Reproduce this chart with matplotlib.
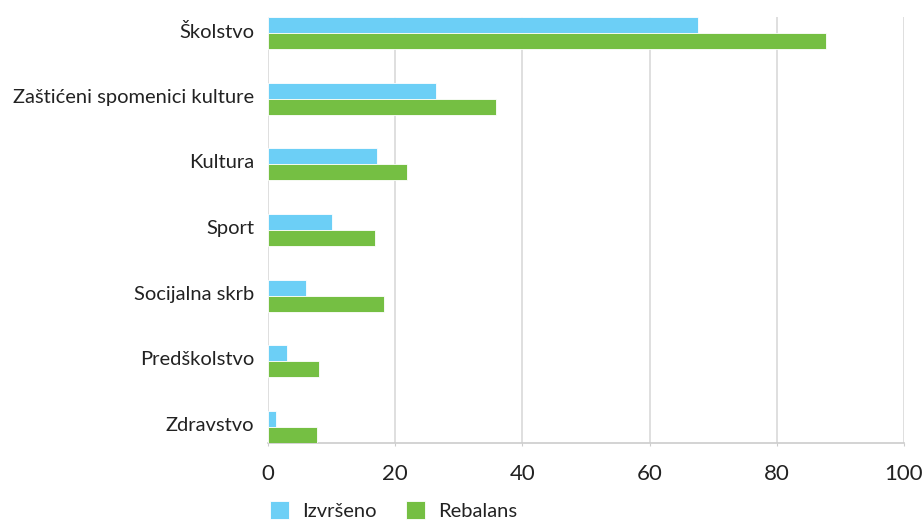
import matplotlib
matplotlib.use("Agg")
import matplotlib.pyplot as plt
import matplotlib.transforms as mtransforms
import numpy as np

categories = ["Školstvo", "Zaštićeni spomenici kulture", "Kultura", "Sport",
              "Socijalna skrb", "Predškolstvo", "Zdravstvo"]
izvrseno = [67.6, 26.4, 17.1, 10.1, 6.0, 3.0, 1.3]
rebalans = [87.7, 35.8, 21.9, 16.8, 18.2, 8.0, 7.7]
series_names = ["Izvršeno", "Rebalans"]
xticks = [0, 20, 40, 60, 80, 100]

plt.rcParams['font.family'] = ['Lato', 'DejaVu Sans']

fig = plt.figure(figsize=(9.24, 5.21), dpi=100)
ax = fig.add_axes([268/924, 1-443/521, (904-268)/924, (443-17)/521])

y = np.arange(len(categories))
h = 0.244
blue = "#6ccff6"
green = "#75bf43"
ax.barh(y - h/2, izvrseno, height=h, color=blue, edgecolor="white", linewidth=0.6, label=series_names[0], zorder=3)
ax.barh(y + h/2, rebalans, height=h, color=green, edgecolor="white", linewidth=0.6, label=series_names[1], zorder=3)

ax.set_ylim(len(categories) - 1 + h, -h)
ax.set_xlim(0, 100)
ax.set_xticks(xticks)
ax.set_xticklabels([str(t) for t in xticks], fontsize=16, color="#222222")
ax.set_yticks(y)
ax.set_yticklabels(categories, fontsize=14.5, color="#222222")
ax.tick_params(axis='y', length=0, pad=10)
ax.tick_params(axis='x', length=2, color="#cccccc", pad=13)
offset = mtransforms.ScaledTranslation(0, 3/100, fig.dpi_scale_trans)
for lbl in ax.get_yticklabels():
    lbl.set_transform(lbl.get_transform() + offset)
ax.grid(axis='x', color="#d9d9d9", linewidth=1.2, zorder=0)
for s in ["top", "right", "left"]:
    ax.spines[s].set_visible(False)
ax.spines["bottom"].set_color("#cccccc")
ax.spines["bottom"].set_linewidth(1.2)

leg = fig.legend(loc="lower left", bbox_to_anchor=(270/924, 1/521), ncol=2, frameon=False,
                 fontsize=14.5, handlelength=0.95, handleheight=0.95, borderpad=0,
                 borderaxespad=0, columnspacing=1.45, handletextpad=0.65)
for t in leg.get_texts():
    t.set_color("#222222")

fig.savefig("out.png", dpi=100)
